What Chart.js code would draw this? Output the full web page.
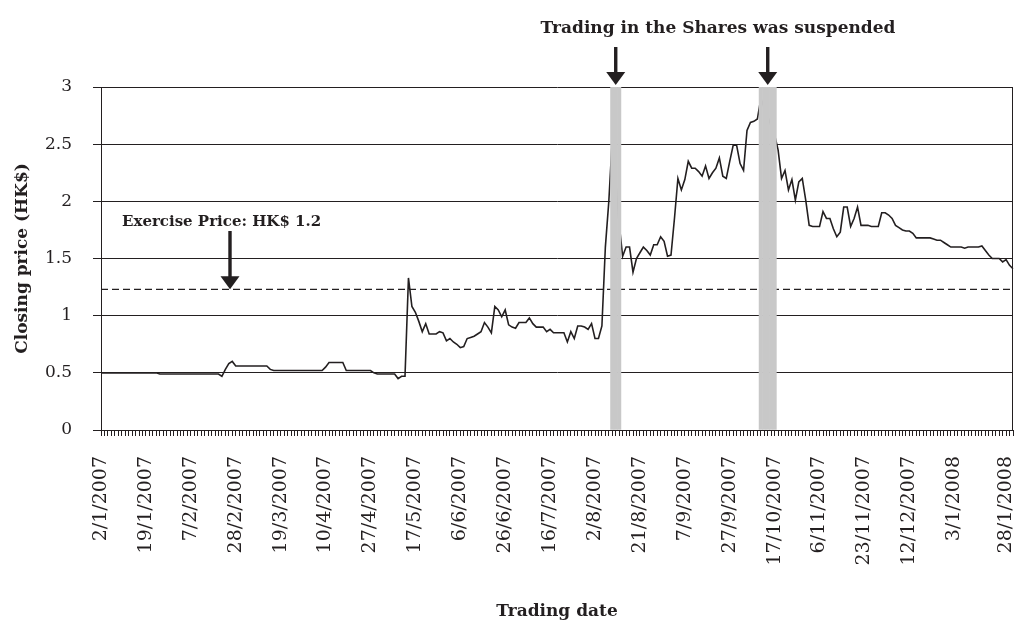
<!DOCTYPE html>
<html>
<head>
<meta charset="utf-8">
<script src="https://cdn.jsdelivr.net/npm/chart.js@4.4.1/dist/chart.umd.min.js"></script>
<style>
    html, body { margin: 0; padding: 0; background: #fff; }
    #wrap { width: 1017px; height: 626px; }
</style>
</head>
<body>
<div id="wrap"><canvas id="priceChart" width="1017" height="626"></canvas></div>
<script>
// Closing price per trading day, 2/1/2007 .. 29/1/2008 (null = hidden under suspension band)
const closePrice = [
    0.50, 0.50, 0.50, 0.50, 0.50, 0.50, 0.50, 0.50, 0.50, 0.50,
    0.50, 0.50, 0.50, 0.50, 0.50, 0.50, 0.50, 0.49, 0.49, 0.49,
    0.49, 0.49, 0.49, 0.49, 0.49, 0.49, 0.49, 0.49, 0.49, 0.49,
    0.49, 0.49, 0.49, 0.49, 0.49, 0.47, 0.53, 0.58, 0.60, 0.56,
    0.56, 0.56, 0.56, 0.56, 0.56, 0.56, 0.56, 0.56, 0.56, 0.53,
    0.52, 0.52, 0.52, 0.52, 0.52, 0.52, 0.52, 0.52, 0.52, 0.52,
    0.52, 0.52, 0.52, 0.52, 0.52, 0.55, 0.59, 0.59, 0.59, 0.59,
    0.59, 0.52, 0.52, 0.52, 0.52, 0.52, 0.52, 0.52, 0.52, 0.50,
    0.49, 0.49, 0.49, 0.49, 0.49, 0.49, 0.45, 0.47, 0.47, 1.33,
    1.08, 1.03, 0.95, 0.86, 0.93, 0.84, 0.84, 0.84, 0.86, 0.85,
    0.78, 0.80, 0.77, 0.75, 0.72, 0.73, 0.80, 0.81, 0.82, 0.84,
    0.86, 0.94, 0.90, 0.85, 1.08, 1.05, 0.99, 1.05, 0.92, 0.90,
    0.89, 0.94, 0.94, 0.94, 0.98, 0.93, 0.90, 0.90, 0.90, 0.86,
    0.88, 0.85, 0.85, 0.85, 0.85, 0.77, 0.86, 0.80, 0.91, 0.91,
    0.90, 0.88, 0.93, 0.80, 0.80, 0.91, 1.60, 2.00, 2.55, null,
    1.80, 1.52, 1.60, 1.60, 1.38, 1.50, 1.55, 1.60, 1.57, 1.53,
    1.62, 1.62, 1.69, 1.65, 1.52, 1.53, 1.85, 2.20, 2.10, 2.19,
    2.35, 2.29, 2.29, 2.26, 2.22, 2.31, 2.20, 2.25, 2.29, 2.38,
    2.22, 2.20, 2.35, 2.49, 2.49, 2.33, 2.27, 2.62, 2.69, 2.70,
    2.72, 2.90, null, null, null, 2.58, 2.45, 2.20, 2.27, 2.10,
    2.19, 2.01, 2.17, 2.20, 2.01, 1.79, 1.78, 1.78, 1.78, 1.91,
    1.85, 1.85, 1.76, 1.69, 1.73, 1.95, 1.95, 1.78, 1.85, 1.95,
    1.79, 1.79, 1.79, 1.78, 1.78, 1.78, 1.90, 1.90, 1.88, 1.85,
    1.79, 1.77, 1.75, 1.74, 1.74, 1.72, 1.68, 1.68, 1.68, 1.68,
    1.68, 1.67, 1.66, 1.66, 1.64, 1.62, 1.60, 1.60, 1.60, 1.60,
    1.59, 1.60, 1.60, 1.60, 1.60, 1.61, 1.57, 1.53, 1.50, 1.50,
    1.50, 1.47, 1.49, 1.44, 1.41
];

// Date labels shown on the axis and the trading-day index they sit on
const tickLabels = ['2/1/2007', '19/1/2007', '7/2/2007', '28/2/2007', '19/3/2007', '10/4/2007',
    '27/4/2007', '17/5/2007', '6/6/2007', '26/6/2007', '16/7/2007', '2/8/2007', '21/8/2007',
    '7/9/2007', '27/9/2007', '17/10/2007', '6/11/2007', '23/11/2007', '12/12/2007', '3/1/2008',
    '28/1/2008'];
const tickIndex = [0, 13, 26, 39, 52, 65, 78, 91, 104, 117, 130, 143, 156, 169, 182, 195,
    208, 221, 234, 247, 262];

// Trading suspensions (first and last trading-day index)
const suspendStart = [148, 191];
const suspendEnd = [150, 195];

const exercisePrice = 1.23;
const yTicks = [0, 0.5, 1, 1.5, 2, 2.5, 3];

const suspendNote = 'Trading in the Shares was suspended';
const exerciseNote = 'Exercise Price: HK$ 1.2';

// build category labels and the band / reference series
const labels = closePrice.map(() => '');
tickIndex.forEach((idx, k) => { labels[idx] = tickLabels[k]; });

const yMax = yTicks[yTicks.length - 1];
const suspendBand = closePrice.map((v, i) => {
    for (let k = 0; k < suspendStart.length; k++) {
        if (i >= suspendStart[k] && i <= suspendEnd[k]) return yMax;
    }
    return null;
});
const exerciseLine = closePrice.map(() => exercisePrice);

const ink = '#231f20';
const serif = '"DejaVu Serif", serif';

function drawArrow(ctx, x, yTop, yTip) {
    const head = 13, half = 9.5;
    ctx.fillRect(x - 1.7, yTop, 3.4, yTip - yTop - head + 1);
    ctx.beginPath();
    ctx.moveTo(x - half, yTip - head);
    ctx.lineTo(x + half, yTip - head);
    ctx.lineTo(x, yTip);
    ctx.closePath();
    ctx.fill();
}

const annotations = {
    id: 'annotations',
    afterDraw(chart) {
        const { ctx, chartArea: a, scales: { x, y } } = chart;
        ctx.save();
        ctx.strokeStyle = ink;
        ctx.lineWidth = 1;
        const rx = Math.round(a.right) - 0.5;
        ctx.beginPath();
        ctx.moveTo(rx, a.top);
        ctx.lineTo(rx, a.bottom);
        ctx.stroke();

        ctx.fillStyle = ink;
        ctx.font = 'bold 17px ' + serif;
        ctx.textAlign = 'center';
        ctx.textBaseline = 'alphabetic';
        ctx.fillText(suspendNote, 718, 33);
        suspendStart.forEach((s, k) => {
            const mid = x.getPixelForValue((s + suspendEnd[k]) / 2);
            drawArrow(ctx, mid, a.top - 40, a.top - 2);
        });

        ctx.font = 'bold 15px ' + serif;
        ctx.textAlign = 'left';
        ctx.fillText(exerciseNote, 122, 226);
        drawArrow(ctx, 230, 231, y.getPixelForValue(exercisePrice));
        ctx.restore();
    }
};

new Chart(document.getElementById('priceChart'), {
    type: 'bar',
    data: {
        labels: labels,
        datasets: [
            {
                type: 'bar',
                label: 'Suspended',
                data: suspendBand,
                backgroundColor: '#c8c8c8',
                borderWidth: 0,
                barPercentage: 1,
                categoryPercentage: 1,
                order: 0
            },
            {
                type: 'line',
                label: 'Closing price',
                data: closePrice,
                borderColor: ink,
                borderWidth: 1.6,
                pointRadius: 0,
                tension: 0,
                spanGaps: true,
                order: 1
            },
            {
                type: 'line',
                label: 'Exercise price',
                data: exerciseLine,
                borderColor: ink,
                borderWidth: 1.1,
                borderDash: [7, 4],
                pointRadius: 0,
                order: 2
            }
        ]
    },
    options: {
        responsive: false,
        animation: false,
        layout: { padding: { top: 87, left: 12, right: 4, bottom: 4 } },
        plugins: {
            legend: { display: false },
            tooltip: { enabled: false }
        },
        scales: {
            x: {
                offset: false,
                grid: { display: true, drawOnChartArea: false, offset: false, color: ink, tickLength: 6 },
                border: { display: true, color: ink, width: 1 },
                ticks: {
                    autoSkip: false,
                    maxRotation: 90,
                    minRotation: 90,
                    padding: 20,
                    color: ink,
                    font: { family: serif, size: 19 }
                },
                title: {
                    display: true,
                    text: 'Trading date',
                    color: ink,
                    font: { family: serif, size: 17, weight: 'bold' },
                    padding: { top: 0, bottom: 0 }
                },
                afterFit: (scale) => { scale.height = 192; scale.paddingRight = 0; }
            },
            y: {
                min: yTicks[0],
                max: yMax,
                afterBuildTicks: (scale) => { scale.ticks = yTicks.map(v => ({ value: v })); },
                grid: { color: ink, lineWidth: 1, tickLength: 8 },
                border: { display: true, color: ink, width: 1 },
                ticks: {
                    padding: 21,
                    color: ink,
                    font: { family: serif, size: 17 },
                    callback: (v) => String(v)
                },
                title: {
                    display: true,
                    text: 'Closing price (HK$)',
                    color: ink,
                    font: { family: serif, size: 17, weight: 'bold' },
                    padding: { top: 0, bottom: 0 }
                },
                afterFit: (scale) => { scale.width = 89; }
            }
        }
    },
    plugins: [annotations]
});
</script>
</body>
</html>
